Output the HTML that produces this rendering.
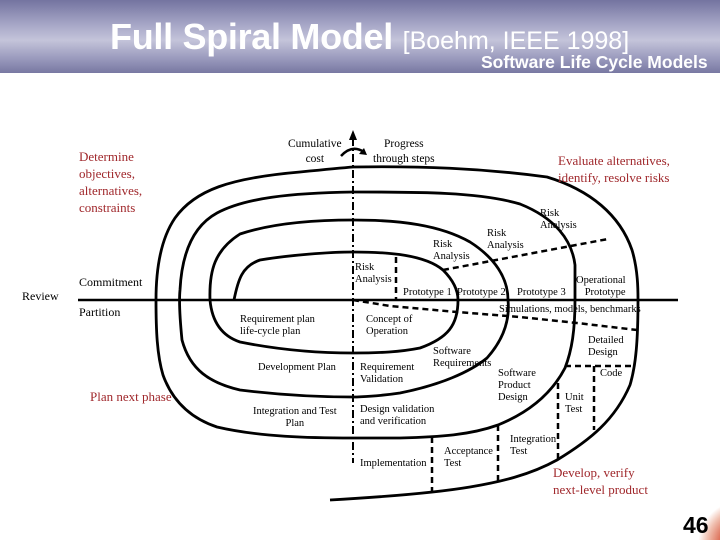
<!DOCTYPE html>
<html style="width:720px;height:540px;overflow:hidden"><head><meta charset="utf-8"><style>
body{margin:0;width:720px;height:540px;overflow:hidden;background:#fff;position:relative;font-family:"Liberation Serif",serif}
.hdr{position:absolute;left:0;top:0;width:720px;height:73px;background:linear-gradient(#7474a0 0%,#a8a8c8 35%,#c4c4da 55%,#9a9abd 80%,#7878a2 100%)}
.t{position:absolute;white-space:nowrap}
.s{font-size:10.5px;color:#000;line-height:12px}
.r{font-size:13px;color:#a0282c;line-height:17px}
</style></head><body>
<div class="hdr"></div>
<div class="t" style="left:110px;top:16px;font:bold 36px 'Liberation Sans',sans-serif;color:#fff;letter-spacing:-0.3px">Full Spiral Model <span style="font-size:25px;font-weight:normal;letter-spacing:0">[Boehm, IEEE 1998]</span></div>
<div class="t" style="left:481px;top:52px;font:bold 17.5px 'Liberation Sans',sans-serif;color:#fff">Software Life Cycle Models</div>
<div style="position:absolute;left:690px;top:500px;width:30px;height:40px;background:radial-gradient(circle 45px at 53px 45px,#c0301c 0%,#d85a40 45%,#f0c0b0 80%,rgba(255,255,255,0) 100%)"></div>
<div class="t" style="left:683px;top:513px;font:bold 23px/24px 'Liberation Sans',sans-serif;color:#000">46</div>

<svg width="720" height="540" style="position:absolute;left:0;top:0" fill="none" stroke="#000">
<line x1="78" y1="300" x2="678" y2="300" stroke-width="2.5"/>
<line x1="353" y1="138" x2="353" y2="463" stroke-width="2" stroke-dasharray="8,3,2,3"/>
<polygon points="353,130 349,140 357,140" fill="#000" stroke="none"/>
<path d="M341,156 Q352,144 364,152" stroke-width="2.5"/>
<polygon points="367,155 359,154 364,148" fill="#000" stroke="none"/>
<path stroke-width="2.8" d="M234,300 C238,280 242,266 260,260 C290,255 330,252 353,252 C390,252 425,255 443,270 C455,282 458,292 458,300 C458,325 448,338 420,348 C400,352 380,353 353,353 C310,353 270,348 240,342 C222,336 212,322 210,300 C209,270 215,250 240,234 C270,224 310,220 353,220 C400,220 440,225 470,242 C495,258 508,278 508,300 C510,320 503,340 487,358 C470,372 440,385 400,393 C380,396 360,397 353,397 C320,397 280,395 240,390 C210,383 190,370 182,340 C180,320 179,300 180,290 C182,250 195,225 217,213 C245,198 290,193 353,192 C420,192 480,192 520,204 C555,218 572,240 575,265 L575,300 C575,330 572,350 565,368 C552,393 530,412 498,425 C470,435 440,437 400,438 L353,438 C310,438 260,437 217,427 C190,418 172,400 163,375 C157,355 156,330 156,300 C156,270 160,240 175,218 C195,190 230,178 300,172 C320,170 340,168 353,167 C420,166 480,168 547,177 C590,190 620,215 632,250 C638,270 638,290 638,300 C638,340 636,365 630,385 C615,420 590,440 557,460 C530,475 500,482 470,487 C440,492 400,496 330,500"/>
<g stroke-width="2.5" stroke-dasharray="6,4">
<line x1="396" y1="257" x2="396" y2="300"/>
<line x1="443" y1="270" x2="608" y2="239"/>
<polyline points="353,300 390,306 457,312 520,317 577,323 637,330"/>
<line x1="565" y1="366" x2="633" y2="366"/>
<line x1="594" y1="366" x2="594" y2="430"/>
<line x1="558" y1="383" x2="558" y2="460"/>
<line x1="498" y1="425" x2="498" y2="485"/>
<line x1="432" y1="437" x2="432" y2="492"/>
</g>
</svg>

<div class="t r" style="left:79px;top:148px">Determine<br>objectives,<br>alternatives,<br>constraints</div>
<div class="t r" style="left:558px;top:152px">Evaluate alternatives,<br>identify, resolve risks</div>
<div class="t r" style="left:90px;top:388px">Plan next phase</div>
<div class="t r" style="left:553px;top:464px">Develop, verify<br>next-level product</div>

<div class="t s" style="left:288px;top:137px;text-align:center;font-size:11.5px;line-height:15px">Cumulative<br>cost</div>
<div class="t s" style="left:373px;top:137px;text-align:center;font-size:11.5px;line-height:15px">Progress<br>through steps</div>
<div class="t s" style="left:79px;top:276px;font-size:12px">Commitment</div>
<div class="t s" style="left:22px;top:290px;font-size:12px">Review</div>
<div class="t s" style="left:79px;top:306px;font-size:12px">Partition</div>
<div class="t s" style="left:540px;top:208px">Risk<br>Analysis</div>
<div class="t s" style="left:487px;top:228px">Risk<br>Analysis</div>
<div class="t s" style="left:433px;top:239px">Risk<br>Analysis</div>
<div class="t s" style="left:355px;top:262px">Risk<br>Analysis</div>
<div class="t s" style="left:403px;top:287px">Prototype 1</div>
<div class="t s" style="left:457px;top:287px">Prototype 2</div>
<div class="t s" style="left:517px;top:287px">Prototype 3</div>
<div class="t s" style="left:576px;top:275px;text-align:right">Operational<br>Prototype</div>
<div class="t s" style="left:499px;top:304px">Simulations, models, benchmarks</div>
<div class="t s" style="left:240px;top:314px">Requirement plan<br>life-cycle plan</div>
<div class="t s" style="left:366px;top:314px">Concept of<br>Operation</div>
<div class="t s" style="left:588px;top:335px">Detailed<br>Design</div>
<div class="t s" style="left:433px;top:346px">Software<br>Requirements</div>
<div class="t s" style="left:258px;top:362px">Development Plan</div>
<div class="t s" style="left:360px;top:362px">Requirement<br>Validation</div>
<div class="t s" style="left:600px;top:368px">Code</div>
<div class="t s" style="left:498px;top:368px">Software<br>Product<br>Design</div>
<div class="t s" style="left:565px;top:392px">Unit<br>Test</div>
<div class="t s" style="left:253px;top:406px;text-align:center">Integration and Test<br>Plan</div>
<div class="t s" style="left:360px;top:404px">Design validation<br>and verification</div>
<div class="t s" style="left:510px;top:434px">Integration<br>Test</div>
<div class="t s" style="left:444px;top:446px">Acceptance<br>Test</div>
<div class="t s" style="left:360px;top:458px">Implementation</div>
</body></html>
